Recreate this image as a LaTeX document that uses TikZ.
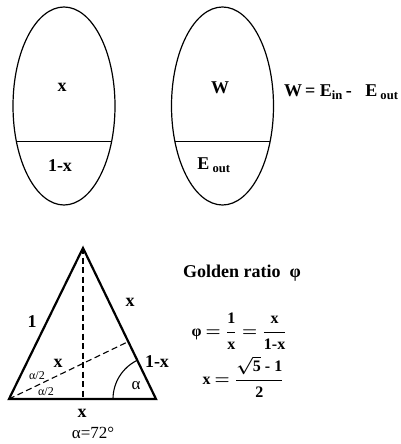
\documentclass[tikz,border=0pt]{standalone}
\usepackage{fontspec}
\usepackage{amsmath}
\setmainfont{Liberation Serif}
\usetikzlibrary{shapes.geometric, positioning, calc}
\tikzstyle{egg} = [ellipse, draw=black, line width=1.2pt, minimum width=102pt, minimum height=198pt, inner sep=0pt, outer sep=0pt]
\tikzstyle{lbl} = [font=\fontsize{18}{20}\selectfont\bfseries\boldmath, inner sep=1pt]
\tikzstyle{formula} = [font=\fontsize{16}{18}\selectfont\bfseries\boldmath, inner sep=1pt]
\tikzstyle{greek} = [font=\fontsize{17}{19}\selectfont, inner sep=0pt]
\tikzstyle{halfangle} = [font=\fontsize{12}{13}\selectfont, inner sep=0pt]
\tikzstyle{triline} = [line width=2.2pt, line join=miter]
\tikzstyle{dashline} = [line width=1.1pt, dash pattern=on 6pt off 3.5pt]

\begin{document}
\begin{tikzpicture}[x=1pt, y=-1pt]
  \useasboundingbox (0,0) rectangle (401,444);

  % Two eggs
  \node[egg] (egg1) at (64,106) {};
  \node[egg] (egg2) at (222.5,106) {};
  \draw[line width=1.2pt] (egg1.217.2) -- (egg1.-37.2);
  \draw[line width=1.2pt] (egg2.217.2) -- (egg2.-37.2);

  \node[lbl] (xa) at (62,87) {x};
  \node[lbl] (onexa) at (60,166) {1-x};
  \node[lbl] (work) at (220,88) {W};
  \node[lbl] (eout) at (214,165) {E\,\textsubscript{out}};
  \node[lbl, anchor=west] (balance) at (283,92) {W\,= E\textsubscript{in}\,-\ \ \ E\,\textsubscript{out}};

  % Triangle
  \coordinate (apex) at (83,248);
  \coordinate (bl) at (9,399);
  \coordinate (br) at (156,399);
  \coordinate (foot) at (83,399);
  \coordinate (cut) at ($(br)!0.38!(apex)$);
  \draw[triline] (bl) -- (apex) -- (br) -- cycle;
  \draw[dashline] (apex) -- (foot);
  \draw[dashline] (bl) -- (cut);
  \draw[line width=1.1pt] (br) ++(-43,0) arc[start angle=180, end angle=115.8, radius=43pt];

  \node[lbl] (one) at (32,322) {1};
  \node[lbl] (xside) at (130,302) {x};
  \node[lbl] (xmid) at (58,363) {x};
  \node[lbl] (onexb) at (157,362) {1-x};
  \node[halfangle] (ha1) at (37,376) {α/2};
  \node[halfangle] (ha2) at (46,392) {α/2};
  \node[greek] (alpha) at (136,386) {α};
  \node[lbl, inner sep=0pt] (xbase) at (82,413) {x};
  \node[greek] (angle) at (93,433) {α=72°};

  % Golden ratio
  \node[lbl, anchor=west] (title) at (182,273) {Golden ratio\ \ φ};
  \node[formula] (phi) at (239,331) {φ\ $=\dfrac{\text{1}}{\text{x}}=\dfrac{\text{x}}{\text{1-x}}$};
  \node[formula] (xval) at (243,377) {x $=\dfrac{\sqrt{\text{5}}\text{ - 1}}{\text{2}}$};
\end{tikzpicture}
\end{document}
